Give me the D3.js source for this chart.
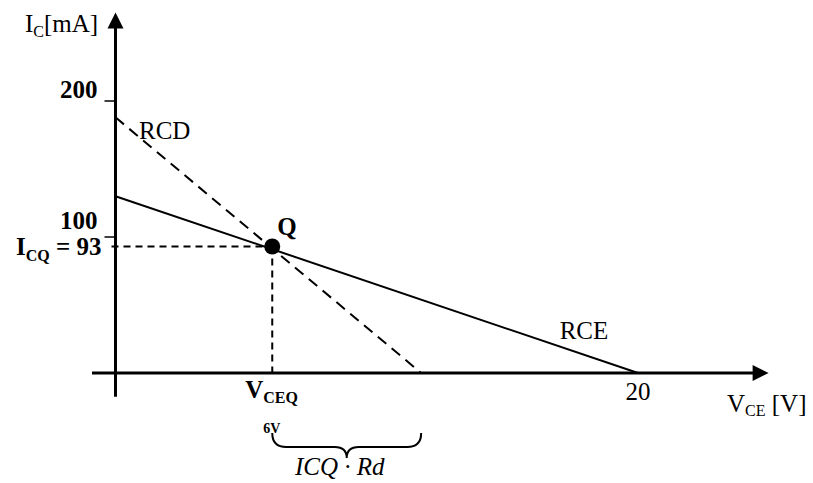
<!DOCTYPE html>
<html>
<head>
<meta charset="utf-8">
<script src="https://cdn.jsdelivr.net/npm/d3@7"></script>
<style>
  body { margin: 0; background: #fff; }
  svg text { font-family: "Liberation Serif", "Times New Roman", serif; fill: #000; }
</style>
</head>
<body>
<div id="chart"></div>
<script>
// load lines, [V_CE (V), I_C (mA)]
var rce = [[0, 130], [20, 0]];
var rcd = [[0, 188], [11.7, 0]];
// operating point
var qPoint = [6, 93];
// tick values on the current axis
var yTicks = [200, 100];
var xTicks = [20];
// axis extents (data units, arrows included)
var xExtent = [-0.9, 25];
var yExtent = [-17.5, 265];

var w = 813, h = 483;

var svg = d3.select("#chart").append("svg")
    .attr("width", w)
    .attr("height", h);

var x = d3.scaleLinear().domain([0, 20]).range([115.5, 638]);
var y = d3.scaleLinear().domain([0, 200]).range([373, 101]);

var line = d3.line()
    .x(function (d) { return x(d[0]); })
    .y(function (d) { return y(d[1]); });

// axes
svg.append("line")
    .attr("x1", x(xExtent[0])).attr("y1", y(0))
    .attr("x2", x(xExtent[1]) - 10).attr("y2", y(0))
    .style("stroke", "#000").style("stroke-width", 3);
svg.append("line")
    .attr("x1", x(0)).attr("y1", y(yExtent[0]))
    .attr("x2", x(0)).attr("y2", y(yExtent[1]) + 10)
    .style("stroke", "#000").style("stroke-width", 3);

// arrowheads
var xt = x(xExtent[1]), yt = y(yExtent[1]);
svg.append("path")
    .attr("d", "M" + xt + "," + y(0) + "L" + (xt - 16) + "," + (y(0) - 8) + "L" + (xt - 16) + "," + (y(0) + 8) + "Z")
    .style("fill", "#000");
svg.append("path")
    .attr("d", "M" + x(0) + "," + yt + "L" + (x(0) - 8) + "," + (yt + 16) + "L" + (x(0) + 8) + "," + (yt + 16) + "Z")
    .style("fill", "#000");

// y ticks
svg.selectAll("line.ytick")
    .data(yTicks)
    .enter()
    .append("line")
    .attr("class", "ytick")
    .attr("x1", x(0) - 11).attr("x2", x(0))
    .attr("y1", function (d) { return y(d); })
    .attr("y2", function (d) { return y(d); })
    .style("stroke", "#000").style("stroke-width", 1.5);

svg.selectAll("text.ylab")
    .data(yTicks)
    .enter()
    .append("text")
    .attr("class", "ylab")
    .attr("x", x(0) - 18)
    .attr("y", function (d, i) { return y(d) - (i ? 8 : 3); })
    .attr("text-anchor", "end")
    .style("font-size", "25px")
    .style("font-weight", "bold")
    .text(function (d) { return d; });

// x tick labels
svg.selectAll("text.xlab")
    .data(xTicks)
    .enter()
    .append("text")
    .attr("class", "xlab")
    .attr("x", function (d) { return x(d); })
    .attr("y", y(0) + 27)
    .attr("text-anchor", "middle")
    .style("font-size", "25px")
    .text(function (d) { return d; });

// load lines
svg.append("path")
    .datum(rce)
    .attr("d", line)
    .style("fill", "none").style("stroke", "#000").style("stroke-width", 2);
svg.append("path")
    .datum(rcd)
    .attr("d", line)
    .style("fill", "none").style("stroke", "#000").style("stroke-width", 2)
    .style("stroke-dasharray", "11,7");

// guides from Q
svg.append("line")
    .attr("x1", x(0) - 4).attr("y1", y(qPoint[1]))
    .attr("x2", x(qPoint[0])).attr("y2", y(qPoint[1]))
    .style("stroke", "#000").style("stroke-width", 2)
    .style("stroke-dasharray", "7,5");
svg.append("line")
    .attr("x1", x(qPoint[0])).attr("y1", y(qPoint[1]))
    .attr("x2", x(qPoint[0])).attr("y2", y(0))
    .style("stroke", "#000").style("stroke-width", 2)
    .style("stroke-dasharray", "7,5");

svg.append("circle")
    .attr("cx", x(qPoint[0])).attr("cy", y(qPoint[1]))
    .attr("r", 8)
    .style("fill", "#000");

// labels
svg.append("text")
    .attr("x", x(qPoint[0]) + 5).attr("y", y(qPoint[1]) - 12)
    .style("font-size", "25px").style("font-weight", "bold")
    .text("Q");

svg.append("text")
    .attr("x", x(0.9)).attr("y", y(172))
    .style("font-size", "25px")
    .text("RCD");

svg.append("text")
    .attr("x", x(17)).attr("y", y(25))
    .style("font-size", "25px")
    .text("RCE");

// I_C[mA]
var ic = svg.append("text")
    .attr("x", 25).attr("y", 32)
    .style("font-size", "25px");
ic.append("tspan").text("I");
ic.append("tspan").attr("dy", 5).style("font-size", "16px").text("C");
ic.append("tspan").attr("dy", -5).text("[mA]");

// I_CQ = 93
var icq = svg.append("text")
    .attr("x", x(0) - 14).attr("y", y(qPoint[1]) + 8)
    .attr("text-anchor", "end")
    .style("font-size", "25px").style("font-weight", "bold");
icq.append("tspan").text("I");
icq.append("tspan").attr("dy", 6).style("font-size", "16px").text("CQ");
icq.append("tspan").attr("dy", -6).text(" = " + qPoint[1]);

// V_CEQ
var vceq = svg.append("text")
    .attr("x", x(qPoint[0]) - 27).attr("y", y(0) + 25)
    .style("font-size", "25px").style("font-weight", "bold");
vceq.append("tspan").text("V");
vceq.append("tspan").attr("dy", 5).style("font-size", "16px").text("CEQ");

// V_CE [V]
var vce = svg.append("text")
    .attr("x", 727).attr("y", y(0) + 39)
    .style("font-size", "25px");
vce.append("tspan").text("V");
vce.append("tspan").attr("dy", 4).style("font-size", "16px").text("CE");
vce.append("tspan").attr("dy", -4).text(" [V]");

// 6V and brace
svg.append("text")
    .attr("x", x(qPoint[0]) - 9).attr("y", 433)
    .style("font-size", "14px").style("font-weight", "bold")
    .text(qPoint[0] + "V");

var b0 = x(qPoint[0]), b1 = x(rcd[1][0]), bm = (b0 + b1) / 2;
var bt = 433, bb = 447, tip = 458;
svg.append("path")
    .attr("d", "M" + b0 + "," + bt +
        "Q" + b0 + "," + bb + " " + (b0 + 14) + "," + bb +
        "L" + (bm - 12) + "," + bb +
        "Q" + bm + "," + bb + " " + bm + "," + tip +
        "Q" + bm + "," + bb + " " + (bm + 12) + "," + bb +
        "L" + (b1 - 14) + "," + bb +
        "Q" + b1 + "," + bb + " " + b1 + "," + bt)
    .style("fill", "none").style("stroke", "#000").style("stroke-width", 2);

svg.append("text")
    .attr("x", 295).attr("y", 475)
    .style("font-size", "25px").style("font-style", "italic")
    .text("ICQ \u00B7 Rd");
</script>
</body>
</html>
